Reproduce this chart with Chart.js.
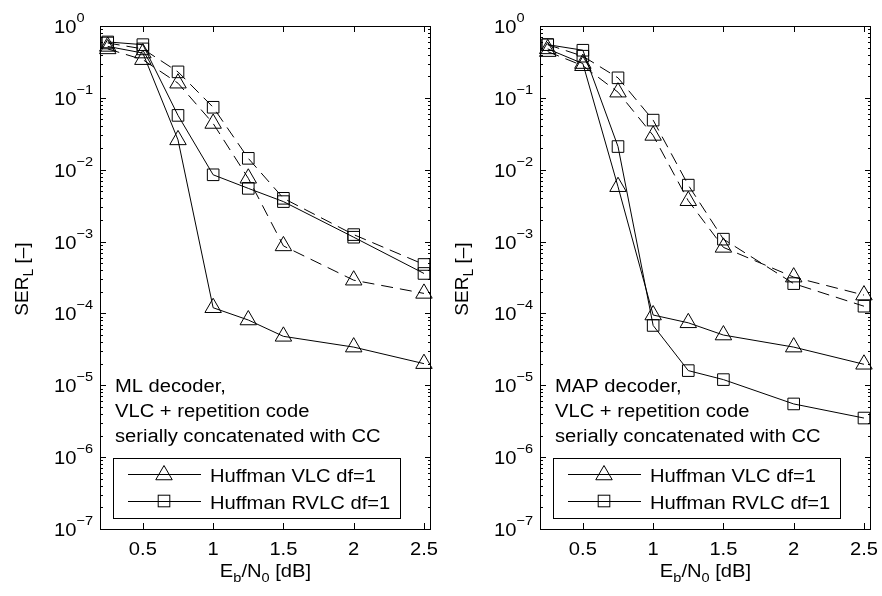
<!DOCTYPE html>
<html>
<head>
<meta charset="utf-8">
<script src="https://cdn.jsdelivr.net/npm/chart.js@4.4.0/dist/chart.umd.min.js"></script>
<style>
  html, body { margin: 0; padding: 0; background: #fff; }
  #wrap { position: relative; width: 882px; height: 596px; }
  .panel { position: absolute; top: 0; width: 441px; height: 596px; }
</style>
</head>
<body>
<div id="wrap">
  <div class="panel" style="left:0"><canvas id="mlChart" width="441" height="596"></canvas></div>
  <div class="panel" style="left:440px"><canvas id="mapChart" width="441" height="596"></canvas></div>
</div>
<script>
// Eb/N0 points [dB]
const ebN0 = [0.25, 0.5, 0.75, 1, 1.25, 1.5, 2, 2.5];

// ML decoder panel
const mlVlc       = [0.52, 0.42, 0.026, 1.2e-4, 8.1e-5, 4.8e-5, 3.4e-5, 2.0e-5];
const mlRvlc      = [0.60, 0.55, 0.057, 8.5e-3, 5.5e-3, 3.6e-3, 1.15e-3, 3.6e-4];
const mlVlcDash   = [0.48, 0.34, 0.16, 0.044, 7.6e-3, 8.7e-4, 2.9e-4, 1.9e-4];
const mlRvlcDash  = [0.58, 0.48, 0.23, 0.074, 0.0144, 4.0e-3, 1.25e-3, 4.8e-4];

// MAP decoder panel
const mapVlc      = [0.48, 0.30, 5.8e-3, 9.5e-5, 7.4e-5, 5.0e-5, 3.4e-5, 1.96e-5];
const mapRvlc     = [0.55, 0.46, 0.021, 6.8e-5, 1.6e-5, 1.2e-5, 5.5e-6, 3.5e-6];
const mapVlcDash  = [0.44, 0.28, 0.12, 0.030, 3.7e-3, 8.3e-4, 3.2e-4, 1.8e-4];
const mapRvlcDash = [0.55, 0.38, 0.19, 0.049, 6.1e-3, 1.08e-3, 2.6e-4, 1.26e-4];

const xTicks = [0.5, 1, 1.5, 2, 2.5];
const yExponents = [0, -1, -2, -3, -4, -5, -6, -7];
const legendLabels = ["Huffman VLC df=1", "Huffman RVLC df=1"];
const mlNote = ["ML decoder,", "VLC + repetition code", "serially concatenated with CC"];
const mapNote = ["MAP decoder,", "VLC + repetition code", "serially concatenated with CC"];

const FONT = '"Liberation Sans", Arial, Helvetica, sans-serif';
const SX = 1.12; // the figure is a bit wider than tall

function pieceWidth(ctx, p) {
  ctx.font = p.size + 'px ' + FONT;
  return ctx.measureText(p.s).width * SX;
}

// draw a run of text pieces {s, size, dy}; returns total width
function drawRun(ctx, pieces, x, y, align) {
  let total = 0;
  pieces.forEach(p => { total += pieceWidth(ctx, p); });
  let cx = align === 'center' ? x - total / 2 : (align === 'right' ? x - total : x);
  pieces.forEach(p => {
    let w = pieceWidth(ctx, p);
    ctx.save();
    ctx.font = p.size + 'px ' + FONT;
    ctx.fillStyle = '#000';
    ctx.textAlign = 'left';
    ctx.textBaseline = 'alphabetic';
    ctx.translate(cx, y + (p.dy || 0));
    ctx.scale(SX, 1);
    ctx.fillText(p.s, 0, 0);
    ctx.restore();
    cx += w;
  });
  return total;
}

function triangle(ctx, x, y, r) {
  ctx.beginPath();
  ctx.moveTo(x, y - r);
  ctx.lineTo(x + 0.866 * r, y + 0.5 * r);
  ctx.lineTo(x - 0.866 * r, y + 0.5 * r);
  ctx.closePath();
  ctx.stroke();
}

function square(ctx, x, y, r) {
  let s = Math.SQRT1_2 * r;
  ctx.strokeRect(x - s, y - s, 2 * s, 2 * s);
}

const decor = {
  id: 'decor',
  afterDraw(chart, args, opts) {
    const ctx = chart.ctx;
    const a = chart.chartArea;
    const xs = chart.scales.x, ys = chart.scales.y;
    ctx.save();
    ctx.strokeStyle = '#000';
    ctx.lineWidth = 1;
    ctx.setLineDash([]);

    // box
    ctx.strokeRect(a.left + 0.5, a.top + 0.5, a.right - a.left - 1, a.bottom - a.top);

    // y ticks (major + log minor)
    ctx.beginPath();
    yExponents.forEach(e => {
      let y = Math.round(ys.getPixelForValue(Math.pow(10, e))) + 0.5;
      ctx.moveTo(a.left, y); ctx.lineTo(a.left + 6, y);
      ctx.moveTo(a.right, y); ctx.lineTo(a.right - 6, y);
      if (e < 0) {
        for (let m = 2; m <= 9; m++) {
          let ym = Math.round(ys.getPixelForValue(m * Math.pow(10, e))) + 0.5;
          ctx.moveTo(a.left, ym); ctx.lineTo(a.left + 3, ym);
          ctx.moveTo(a.right, ym); ctx.lineTo(a.right - 3, ym);
        }
      }
    });
    // x ticks
    xTicks.forEach(t => {
      let x = Math.round(xs.getPixelForValue(t)) + 0.5;
      ctx.moveTo(x, a.bottom); ctx.lineTo(x, a.bottom - 6);
      ctx.moveTo(x, a.top); ctx.lineTo(x, a.top + 6);
    });
    ctx.stroke();

    // y tick labels 10^e
    yExponents.forEach(e => {
      let y = ys.getPixelForValue(Math.pow(10, e));
      let exp = e === 0 ? '0' : '\u2212' + (-e);
      let w = drawRun(ctx, [{s: '10', size: 18}], 54, y + 7, 'left');
      drawRun(ctx, [{s: exp, size: 13}], 54 + w, y - 4, 'left');
    });

    // x tick labels
    xTicks.forEach(t => {
      drawRun(ctx, [{s: String(t), size: 18}], xs.getPixelForValue(t), 555, 'center');
    });

    // x axis title
    drawRun(ctx, [
      {s: 'E', size: 18}, {s: 'b', size: 13, dy: 5}, {s: '/N', size: 18},
      {s: '0', size: 13, dy: 5}, {s: ' [dB]', size: 18}
    ], (a.left + a.right) / 2, 577, 'center');

    // y axis title (rotated)
    ctx.save();
    ctx.translate(28, 279);
    ctx.rotate(-Math.PI / 2);
    const yt = [{s: 'SER', size: 19}, {s: 'L', size: 14, dy: 5}, {s: ' [\u2013]', size: 19}];
    let tw = 0;
    yt.forEach(p => { ctx.font = p.size + 'px ' + FONT; tw += ctx.measureText(p.s).width; });
    let cx = -tw / 2;
    yt.forEach(p => {
      ctx.font = p.size + 'px ' + FONT;
      ctx.fillStyle = '#000';
      ctx.textAlign = 'left';
      ctx.fillText(p.s, cx, (p.dy || 0));
      cx += ctx.measureText(p.s).width;
    });
    ctx.restore();

    // note text
    opts.note.forEach((line, i) => {
      drawRun(ctx, [{s: line, size: 18}], a.left + 15, 392 + i * 25, 'left');
    });

    // legend
    ctx.fillStyle = '#fff';
    ctx.fillRect(a.left + 13, 458, 287, 60);
    ctx.strokeRect(a.left + 13.5, 458.5, 287, 60);
    const rows = [474, 501];
    rows.forEach((ry, i) => {
      ctx.beginPath();
      ctx.moveTo(a.left + 28, ry + 0.5);
      ctx.lineTo(a.left + 101, ry + 0.5);
      ctx.stroke();
      if (i === 0) triangle(ctx, a.left + 64, ry + 1, 9.5);
      else square(ctx, a.left + 64, ry, 8.2);
      drawRun(ctx, [{s: legendLabels[i], size: 18}], a.left + 110, ry + 8, 'left');
    });
    ctx.restore();
  }
};

function makeSet(values, style, dashed) {
  return {
    data: ebN0.map((x, i) => ({x: x, y: values[i]})),
    borderColor: '#000',
    borderWidth: 1,
    borderDash: dashed ? [12, 7] : [],
    pointStyle: style,
    pointRadius: style === 'triangle' ? 9.5 : 8.2,
    pointBorderColor: '#000',
    pointBorderWidth: 1,
    pointBackgroundColor: 'rgba(0,0,0,0)',
    tension: 0,
    fill: false,
    clip: false
  };
}

function makePanel(id, vlc, rvlc, vlcDash, rvlcDash, note) {
  return new Chart(document.getElementById(id), {
    type: 'line',
    data: {
      datasets: [
        makeSet(vlc, 'triangle', false),
        makeSet(rvlc, 'rect', false),
        makeSet(vlcDash, 'triangle', true),
        makeSet(rvlcDash, 'rect', true)
      ]
    },
    options: {
      responsive: false,
      animation: false,
      layout: { padding: { left: 0, right: 10, top: 26, bottom: 0 }, autoPadding: false },
      plugins: { legend: { display: false }, tooltip: { enabled: false }, decor: { note: note } },
      scales: {
        x: {
          type: 'linear', min: 0.195, max: 2.55,
          ticks: { display: false }, grid: { display: false }, border: { display: false },
          afterFit: s => { s.height = 67; }
        },
        y: {
          type: 'logarithmic', min: 1e-7, max: 1,
          ticks: { display: false }, grid: { display: false }, border: { display: false },
          afterFit: s => { s.width = 100; }
        }
      }
    },
    plugins: [decor]
  });
}

makePanel('mlChart', mlVlc, mlRvlc, mlVlcDash, mlRvlcDash, mlNote);
makePanel('mapChart', mapVlc, mapRvlc, mapVlcDash, mapRvlcDash, mapNote);
</script>
</body>
</html>
